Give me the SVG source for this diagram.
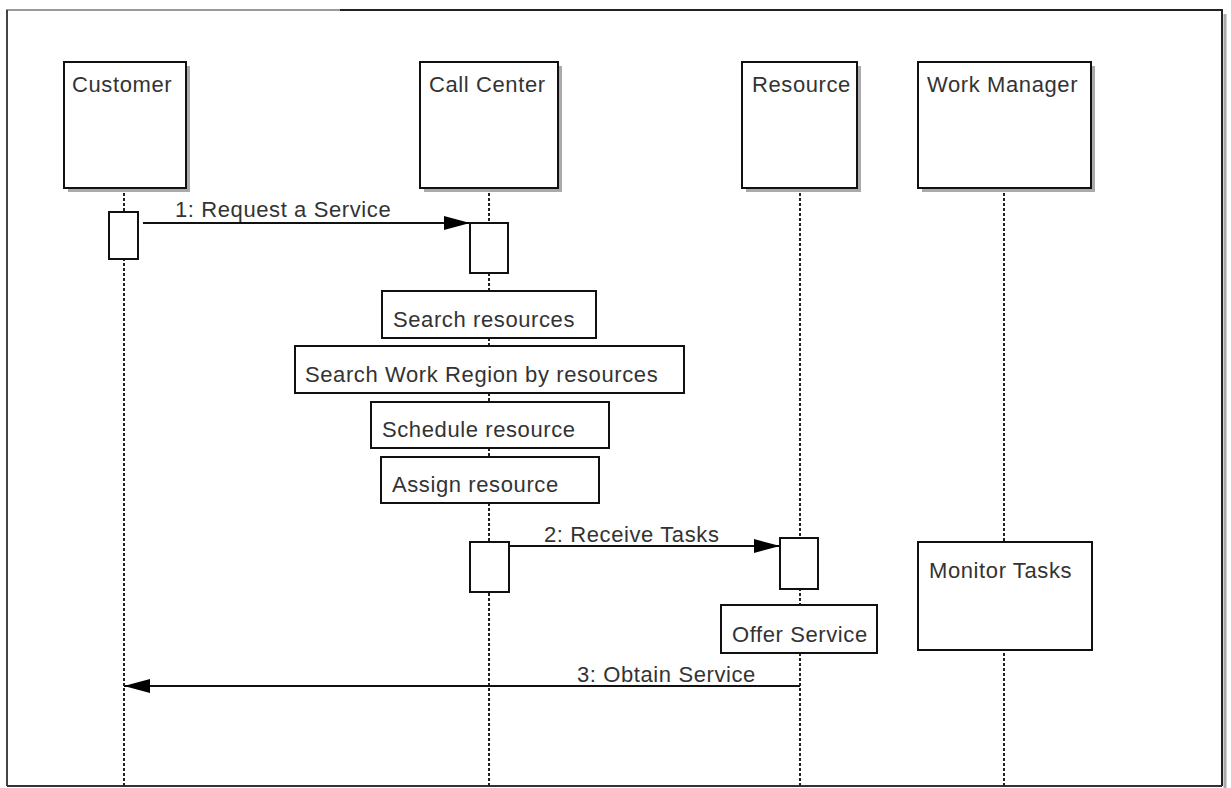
<svg xmlns="http://www.w3.org/2000/svg" width="1231" height="788" viewBox="0 0 1231 788">
<defs>
<style>
.t{font-family:"Liberation Sans",Arial,sans-serif;font-size:22px;fill:#333;letter-spacing:0.6px}
.box{fill:#fff;stroke:#111;stroke-width:2}
.shadow{fill:#aaa}
.life{stroke:#222;stroke-width:2;stroke-dasharray:3,2;fill:none}
.msg{stroke:#111;stroke-width:2;fill:none}
</style>
<marker id="ah" viewBox="0 0 26 14" refX="26" refY="7" markerWidth="26" markerHeight="14" markerUnits="userSpaceOnUse" orient="auto">
<path d="M0,0 L26,7 L0,14 z" fill="#000"/>
</marker>
</defs>
<rect width="1231" height="788" fill="#fff"/>
<g id="frame">
<line x1="6" y1="10" x2="340" y2="10" stroke="#999" stroke-width="2"/>
<line x1="340" y1="10" x2="1223" y2="10" stroke="#222" stroke-width="2"/>
<line x1="7" y1="10" x2="7" y2="786" stroke="#444" stroke-width="2"/>
<line x1="1225" y1="14" x2="1225" y2="788" stroke="#aaa" stroke-width="3"/>
<line x1="1222" y1="10" x2="1222" y2="786" stroke="#222" stroke-width="2"/>
<line x1="7" y1="786" x2="1222" y2="786" stroke="#333" stroke-width="2"/>
</g>
<g id="lifelines">
<line class="life" x1="124" y1="188" x2="124" y2="786"/>
<line class="life" x1="489" y1="188" x2="489" y2="786"/>
<line class="life" x1="800" y1="188" x2="800" y2="786"/>
<line class="life" x1="1004" y1="188" x2="1004" y2="786"/>
</g>
<g id="customer">
<rect class="shadow" x="68" y="66" width="122" height="126"/>
<rect class="box" x="64" y="62" width="122" height="126"/>
<text class="t" x="72" y="92">Customer</text>
</g>
<g id="callcenter">
<rect class="shadow" x="424" y="66" width="138" height="126"/>
<rect class="box" x="420" y="62" width="138" height="126"/>
<text class="t" x="429" y="92">Call Center</text>
</g>
<g id="resource">
<rect class="shadow" x="746" y="66" width="115" height="126"/>
<rect class="box" x="742" y="62" width="115" height="126"/>
<text class="t" x="752" y="92">Resource</text>
</g>
<g id="workmanager">
<rect class="shadow" x="922" y="66" width="173" height="126"/>
<rect class="box" x="918" y="62" width="173" height="126"/>
<text class="t" x="927" y="92">Work Manager</text>
</g>
<g id="act-customer"><rect class="box" x="109" y="212" width="29" height="47"/></g>
<g id="act-callcenter-1"><rect class="box" x="470" y="223" width="38" height="50"/></g>
<g id="search-resources">
<rect class="box" x="382" y="291" width="214" height="47"/>
<text class="t" x="393" y="327">Search resources</text>
</g>
<g id="search-work-region">
<rect class="box" x="295" y="346" width="389" height="47"/>
<text class="t" x="305" y="382">Search Work Region by resources</text>
</g>
<g id="schedule-resource">
<rect class="box" x="371" y="402" width="238" height="46"/>
<text class="t" x="382" y="437">Schedule resource</text>
</g>
<g id="assign-resource">
<rect class="box" x="381" y="457" width="218" height="46"/>
<text class="t" x="392" y="492">Assign resource</text>
</g>
<g id="act-callcenter-2"><rect class="box" x="470" y="542" width="39" height="50"/></g>
<g id="act-resource"><rect class="box" x="780" y="538" width="38" height="51"/></g>
<g id="offer-service">
<rect class="box" x="721" y="605" width="156" height="48"/>
<text class="t" x="732" y="642">Offer Service</text>
</g>
<g id="monitor-tasks">
<rect class="box" x="918" y="542" width="174" height="108"/>
<text class="t" x="929" y="578">Monitor Tasks</text>
</g>
<g id="connectors">
<line class="msg" x1="143" y1="223" x2="470" y2="223" marker-end="url(#ah)"/>
<text class="t" x="175" y="217">1: Request a Service</text>
<line class="msg" x1="509" y1="546" x2="780" y2="546" marker-end="url(#ah)"/>
<text class="t" x="544" y="542">2: Receive Tasks</text>
<line class="msg" x1="800" y1="686" x2="124" y2="686" marker-end="url(#ah)"/>
<text class="t" x="577" y="682">3: Obtain Service</text>
</g>
</svg>
